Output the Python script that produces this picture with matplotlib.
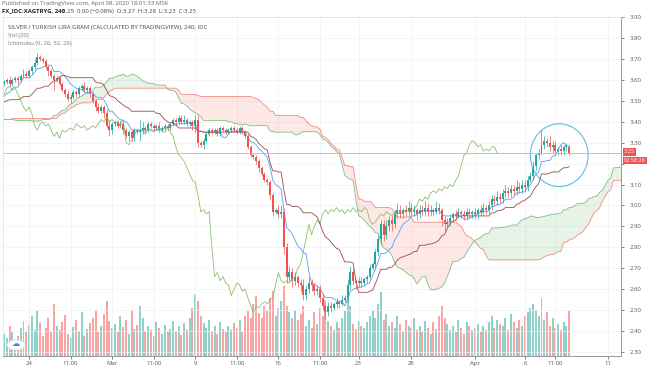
import numpy as np
import pandas as pd
import matplotlib
matplotlib.use("Agg")
import matplotlib.pyplot as plt
from matplotlib.patches import Ellipse, Circle

plt.rcParams['font.family'] = ['Open Sans', 'DejaVu Sans']

# 4h closes of the visible candles
close = [
    3.59, 3.60, 3.58, 3.60, 3.61, 3.60, 3.62, 3.63, 3.62, 3.64,
    3.66, 3.68, 3.71, 3.70, 3.69, 3.66, 3.64, 3.62, 3.60, 3.61,
    3.58, 3.55, 3.53, 3.51, 3.52, 3.54, 3.53, 3.56, 3.57, 3.55,
    3.56, 3.53, 3.50, 3.47, 3.45, 3.47, 3.44, 3.38, 3.36, 3.39,
    3.40, 3.38, 3.39, 3.36, 3.33, 3.35, 3.32, 3.36, 3.35, 3.36,
    3.37, 3.36, 3.39, 3.38, 3.37, 3.38, 3.36, 3.37, 3.38, 3.37,
    3.39, 3.41, 3.40, 3.42, 3.40, 3.41, 3.39, 3.40, 3.38, 3.41,
    3.30, 3.29, 3.31, 3.34, 3.36, 3.35, 3.36, 3.34, 3.37, 3.36,
    3.35, 3.36, 3.37, 3.36, 3.35, 3.37, 3.35, 3.33, 3.28, 3.24,
    3.23, 3.21, 3.18, 3.15, 3.12, 3.11, 3.05, 2.97, 2.98, 2.96,
    2.97, 2.80, 2.66, 2.68, 2.64, 2.66, 2.63, 2.62, 2.57, 2.60,
    2.63, 2.62, 2.59, 2.60, 2.56, 2.52, 2.49, 2.52, 2.51, 2.53,
    2.54, 2.53, 2.55, 2.56, 2.62, 2.68, 2.64, 2.63, 2.64, 2.63,
    2.65, 2.66, 2.70, 2.72, 2.78, 2.84, 2.91, 2.86, 2.90, 2.93,
    2.91, 2.96, 2.98, 2.96, 2.98, 2.97, 2.99, 2.97, 2.98, 2.96,
    2.98, 2.97, 2.99, 2.97, 2.98, 2.97, 2.99, 2.98, 2.93, 2.91,
    2.92, 2.94, 2.96, 2.95, 2.97, 2.96, 2.95, 2.97, 2.96, 2.97,
    2.96, 2.98, 2.97, 2.99, 2.98, 3.00, 3.03, 3.02, 3.04, 3.03,
    3.06, 3.07, 3.06, 3.08, 3.07, 3.09, 3.08, 3.10, 3.09, 3.12,
    3.14, 3.19, 3.24, 3.25, 3.29, 3.31, 3.30, 3.28, 3.29, 3.26,
    3.27, 3.26, 3.28, 3.28, 3.25,
]

# wick lengths above / below the body, in hundredths
wick_up = [
    1, 1, 2, 1, 1, 1, 1, 2, 1, 1,  1, 2, 2, 1, 1, 1, 1, 1, 1, 1,
    1, 1, 1, 2, 1, 1, 1, 1, 1, 2,  1, 1, 1, 1, 2, 1, 1, 2, 3, 1,
    1, 1, 2, 1, 1, 1, 1, 1, 1, 5,  3, 1, 1, 1, 1, 1, 2, 1, 1, 1,
    1, 1, 1, 1, 1, 2, 1, 1, 1, 2,  2, 1, 1, 1, 1, 1, 1, 1, 1, 1,
    1, 1, 1, 1, 1, 1, 1, 1, 1, 1,  1, 1, 1, 1, 1, 1, 1, 1, 1, 2,
    3, 2, 2, 3, 2, 2, 1, 2, 3, 2,  3, 2, 1, 2, 2, 2, 1, 2, 2, 1,
    2, 1, 2, 1, 3, 3, 2, 1, 2, 2,  1, 1, 2, 1, 1, 2, 2, 2, 3, 2,
    2, 2, 3, 2, 1, 2, 3, 2, 2, 1,  2, 2, 3, 2, 2, 1, 3, 2, 1, 2,
    2, 2, 1, 2, 2, 1, 2, 2, 2, 1,  2, 1, 2, 2, 1, 2, 2, 2, 3, 2,
    2, 3, 2, 2, 2, 3, 2, 2, 2, 2,  2, 2, 1, 2, 7, 2, 1, 3, 2, 2,
    1, 2, 1, 2, 1,
]
wick_dn = [
    1, 1, 1, 1, 1, 2, 1, 1, 1, 1,  1, 1, 1, 1, 1, 1, 2, 1, 5, 1,
    1, 1, 1, 1, 2, 1, 1, 1, 1, 1,  1, 1, 1, 2, 1, 1, 2, 1, 3, 2,
    1, 1, 1, 2, 1, 2, 1, 1, 1, 4,  2, 1, 1, 1, 1, 1, 1, 1, 1, 1,
    1, 1, 1, 1, 1, 1, 1, 1, 2, 3,  2, 1, 2, 1, 1, 1, 1, 1, 1, 1,
    1, 1, 1, 1, 1, 1, 1, 1, 1, 1,  1, 1, 2, 1, 1, 1, 2, 2, 1, 2,
    2, 3, 3, 2, 3, 2, 2, 3, 2, 2,  2, 3, 2, 2, 2, 2, 3, 2, 2, 1,
    2, 2, 1, 1, 2, 2, 2, 3, 2, 2,  1, 2, 1, 1, 2, 2, 3, 3, 2, 2,
    3, 2, 2, 2, 2, 2, 2, 2, 2, 3,  2, 2, 2, 2, 2, 2, 1, 2, 3, 3,
    2, 2, 2, 2, 1, 2, 2, 2, 2, 2,  2, 2, 2, 1, 2, 2, 2, 2, 2, 2,
    2, 2, 2, 2, 2, 2, 2, 2, 2, 2,  1, 2, 2, 2, 1, 2, 2, 2, 3, 2,
    2, 2, 2, 2, 1,
]

# volume per candle (relative units)
volume = [
    22, 18, 30, 25, 14, 20, 28, 35, 24, 31,  40, 26, 45, 33, 20, 28, 38, 24, 52, 30,
    26, 34, 41, 22, 18, 29, 36, 25, 44, 20,  27, 33, 38, 46, 24, 30, 42, 55, 35, 28,
    32, 24, 40, 29, 36, 22, 45, 27, 31, 50,  38, 24, 30, 26, 20, 34, 28, 22, 31, 25,
    27, 35, 24, 30, 21, 33, 26, 38, 48, 62,  55, 40, 33, 28, 36, 25, 30, 22, 34, 27,
    24, 30, 26, 33, 28, 36, 25, 40, 45, 38,  52, 60, 43, 38, 50, 46, 58, 65, 40, 48,
    55, 70, 50, 44, 38, 46, 36, 42, 50, 30,  36, 28, 44, 32, 48, 40, 56, 35, 30, 26,
    34, 28, 38, 45, 62, 50, 32, 27, 35, 30,  28, 34, 40, 45, 38, 52, 64, 36, 42, 30,
    34, 28, 40, 32, 25, 36, 30, 28, 38, 26,  30, 24, 35, 28, 22, 34, 27, 40, 50, 38,
    32, 26, 30, 24, 36, 28, 22, 34, 30, 26,  28, 32, 24, 30, 26, 34, 40, 28, 36, 32,
    30, 38, 26, 42, 34, 28, 36, 30, 40, 44,  48, 52, 46, 40, 58, 36, 44, 30, 38, 28,
    32, 26, 34, 30, 45,
]

# closes before the visible range (only feed the Ichimoku cloud on the left)
history_close = [
    3.38, 3.36, 3.35, 3.37, 3.39, 3.40, 3.38, 3.41, 3.42, 3.40,
    3.41, 3.43, 3.42, 3.44, 3.43, 3.45, 3.46, 3.44, 3.45, 3.47,
    3.46, 3.44, 3.43, 3.45, 3.44, 3.42, 3.41, 3.43, 3.42, 3.40,
    3.39, 3.41, 3.40, 3.38, 3.37, 3.39, 3.40, 3.38, 3.36, 3.37,
    3.39, 3.41, 3.40, 3.42, 3.43, 3.41, 3.42, 3.44, 3.43, 3.41,
    3.42, 3.40, 3.41, 3.43, 3.42, 3.40, 3.39, 3.41, 3.42, 3.40,
    3.39, 3.41, 3.40, 3.42, 3.41, 3.39, 3.40, 3.42, 3.41, 3.44,
    3.47, 3.46, 3.50, 3.52, 3.51, 3.55, 3.57, 3.58,
]

time_ticks = [9, 24, 39, 54, 69, 84, 99, 114, 128, 147, 170, 188, 199, 218]
time_labels = ['24', '11:00', 'Mar', '11:00', '9', '11:00', '16', '11:00',
               '23', '26', 'Apr', '6', '11:00', '11']
price_ticks = [2.30, 2.40, 2.50, 2.60, 2.70, 2.80, 2.90, 3.00,
               3.10, 3.20, 3.30, 3.40, 3.50, 3.60, 3.70, 3.80, 3.90]
hidden_tick = 3.20  # covered by the countdown box on the axis
last_price = 3.25
countdown = '02:58:28'

UP = '#26a69a'
DOWN = '#ef5350'

# --- series ---
n_hist = len(history_close)
full_close = np.array(history_close + close)
full_open = np.concatenate([[history_close[0]], full_close[:-1]])
full_high = np.maximum(full_open, full_close) + np.array([0] * n_hist + wick_up) / 100
full_low = np.minimum(full_open, full_close) - np.array([0] * n_hist + wick_dn) / 100
x_full = np.arange(len(full_close)) - n_hist

hi = pd.Series(full_high)
lo = pd.Series(full_low)
tenkan = ((hi.rolling(9, min_periods=1).max() + lo.rolling(9, min_periods=1).min()) / 2).values
kijun = ((hi.rolling(26, min_periods=1).max() + lo.rolling(26, min_periods=1).min()) / 2).values
span_a = (tenkan + kijun) / 2
span_b = ((hi.rolling(52, min_periods=1).max() + lo.rolling(52, min_periods=1).min()) / 2).values
shift = 26

vis = x_full >= 0
xv = x_full[vis]
o = full_open[vis]
c = full_close[vis]
h = full_high[vis]
l = full_low[vis]
up = c >= o

# --- figure ---
fig = plt.figure(figsize=(6.54, 3.66), dpi=100)
fig.patch.set_facecolor('white')
ax = fig.add_axes([3 / 654, 10 / 366, 618 / 654, 339 / 366])
axv = ax.twinx()
ax.set_zorder(2)
axv.set_zorder(1)
ax.patch.set_visible(False)

# volume in the background
axv.bar(xv, volume, width=0.72, color=np.where(up, '#8fd0c9', '#f6a5a3'), linewidth=0)
axv.set_ylim(0, 339)
axv.tick_params(right=False, labelright=False)
for sp in axv.spines.values():
    sp.set_visible(False)

# cloud
xc = x_full + shift
ax.fill_between(xc, span_a, span_b, where=span_a >= span_b, interpolate=True,
                color='#43a047', alpha=0.12, linewidth=0)
ax.fill_between(xc, span_a, span_b, where=span_a < span_b, interpolate=True,
                color='#f44336', alpha=0.12, linewidth=0)
ax.plot(xc, span_a, color='#7cc07f', lw=0.6)
ax.plot(xc, span_b, color='#f28b82', lw=0.6)

# lagging span, conversion and base lines
ax.plot(xv - shift, c, color='#8cc06a', lw=0.6)
ax.plot(xv, tenkan[vis], color='#5b9bf0', lw=0.6)
ax.plot(xv, kijun[vis], color='#9c4a4a', lw=0.6)

# candles
cols = np.where(up, UP, DOWN)
ax.vlines(xv, l, h, colors=cols, lw=0.5)
ax.bar(xv, np.maximum(np.abs(c - o), 0.003), bottom=np.minimum(o, c), width=0.72,
       color=cols, linewidth=0)

# last price line
ax.axhline(last_price, color='#f4a0a0', lw=0.6)

# hand-drawn circle
ax.add_patch(Ellipse((200.4, 3.24), width=20.9, height=0.30, fill=False,
                     edgecolor='#5bbfe0', lw=0.8))

# axes styling
ax.set_xlim(-0.4, 222.7)
ax.set_ylim(2.281, 3.89)
ax.yaxis.tick_right()
ax.set_yticks(price_ticks)
ax.set_yticklabels(['' if abs(p - hidden_tick) < 1e-9 else f'{p:.2f}' for p in price_ticks])
ax.set_xticks(time_ticks)
ax.set_xticklabels(time_labels)
ax.tick_params(axis='both', labelsize=4.3, colors='#555555', length=2, width=0.5, pad=1.5)
ax.tick_params(axis='y', pad=4)
ax.grid(True, color='#edf0f5', lw=0.5)
ax.set_axisbelow(True)
for name in ('top', 'left'):
    ax.spines[name].set_color('#e0e3eb')
    ax.spines[name].set_linewidth(0.6)
for name in ('right', 'bottom'):
    ax.spines[name].set_color('#9598a1')
    ax.spines[name].set_linewidth(0.7)

# price label boxes on the axis
ax.annotate(f'{last_price:.2f}', xy=(1, last_price), xycoords=('axes fraction', 'data'),
            xytext=(2, 0.8), textcoords='offset points', va='center', ha='left',
            fontsize=4.0, color='white',
            bbox=dict(boxstyle='square,pad=0.2', fc='#ef5350', ec='none'))
ax.annotate(countdown, xy=(1, last_price), xycoords=('axes fraction', 'data'),
            xytext=(2, -5.6), textcoords='offset points', va='center', ha='left',
            fontsize=4.0, color='white',
            bbox=dict(boxstyle='square,pad=0.2', fc='#ef5350', ec='none'))

# legend inside the pane
ax.text(0.008, 0.975, 'SILVER / TURKISH LIRA GRAM (CALCULATED BY TRADINGVIEW), 240, IDC',
        transform=ax.transAxes, fontsize=4.3, color='#444444', va='top')
ax.text(0.008, 0.953, 'Vol (20)', transform=ax.transAxes, fontsize=4.3, color='#777777', va='top')
ax.text(0.008, 0.930, 'Ichimoku (9, 26, 52, 26)', transform=ax.transAxes, fontsize=4.3,
        color='#777777', va='top')

# header
fig.text(2 / 654, 1 - 3 / 366, 'Published on TradingView.com, April 08, 2020 18:01:33 MSK',
         fontsize=4.3, color='#666666', va='center')
fig.text(2 / 654, 1 - 11 / 366, 'FX_IDC:XAGTRYG, 240', fontsize=4.3, color='#222222',
         va='center', fontweight='bold')
fig.text(62 / 654, 1 - 11 / 366, '3.25  0.00 (\u22120.08%)  O:3.27  H:3.28  L:3.23  C:3.25',
         fontsize=4.3, color='#444444', va='center')

# TradingView badge bottom-left
badge = Circle((16 / 654, 1 - 345 / 366), 0.014, transform=fig.transFigure,
               facecolor='white', edgecolor='#d5d8de', lw=0.6, zorder=5)
fig.add_artist(badge)
fig.text(16 / 654, 1 - 345 / 366, '\u2601', fontsize=6, color='#2a8fd6',
         ha='center', va='center', zorder=6)

fig.savefig('out.png', dpi=100, facecolor='white')
